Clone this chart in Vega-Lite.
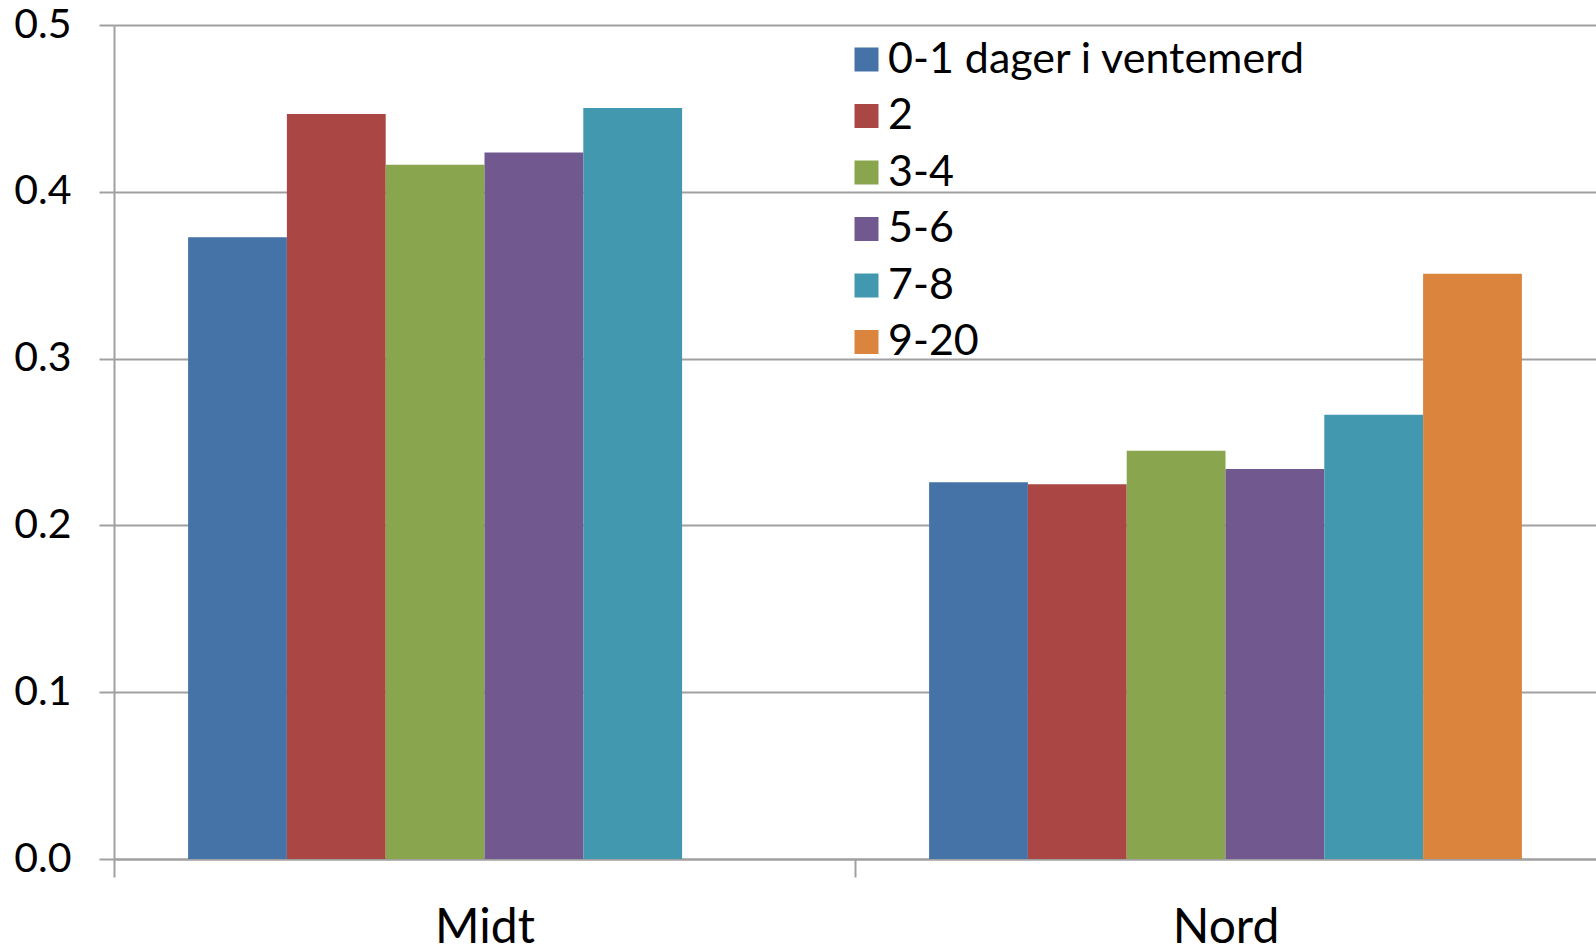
{
  "$schema": "https://vega.github.io/schema/vega-lite/v6.json",
  "width": 1482,
  "height": 834,
  "autosize": "none",
  "padding": {"left": 114, "top": 25, "right": 0, "bottom": 92},
  "background": "white",
  "data": {
    "values": [
      {"region": "Midt", "group": "0-1 dager i ventemerd", "value": 0.3728},
      {"region": "Midt", "group": "2", "value": 0.4467},
      {"region": "Midt", "group": "3-4", "value": 0.4162},
      {"region": "Midt", "group": "5-6", "value": 0.4235},
      {"region": "Midt", "group": "7-8", "value": 0.4503},
      {"region": "Nord", "group": "0-1 dager i ventemerd", "value": 0.2258},
      {"region": "Nord", "group": "2", "value": 0.2246},
      {"region": "Nord", "group": "3-4", "value": 0.2448},
      {"region": "Nord", "group": "5-6", "value": 0.2338},
      {"region": "Nord", "group": "7-8", "value": 0.2663},
      {"region": "Nord", "group": "9-20", "value": 0.3508}
    ]
  },
  "mark": {"type": "bar"},
  "encoding": {
    "x": {
      "field": "region",
      "type": "nominal",
      "sort": ["Midt", "Nord"],
      "scale": {"paddingInner": 0.2, "paddingOuter": 0.1},
      "axis": {
        "title": null,
        "labelAngle": 0,
        "labelFont": "Lato",
        "labelFontSize": 48,
        "labelColor": "#000000",
        "labelPadding": 27,
        "tickOffset": -370.5,
        "labelOffset": 370.5,
        "tickSize": 18,
        "tickColor": "#A0A0A0",
        "tickWidth": 2,
        "domainColor": "#A0A0A0",
        "domainWidth": 2,
        "grid": false
      }
    },
    "xOffset": {
      "field": "group",
      "type": "nominal",
      "sort": ["0-1 dager i ventemerd", "2", "3-4", "5-6", "7-8", "9-20"],
      "scale": {"domain": ["0-1 dager i ventemerd", "2", "3-4", "5-6", "7-8", "9-20"], "paddingInner": 0, "paddingOuter": 0}
    },
    "y": {
      "field": "value",
      "type": "quantitative",
      "scale": {"domain": [0, 0.5], "nice": false},
      "axis": {
        "title": null,
        "values": [0, 0.1, 0.2, 0.3, 0.4, 0.5],
        "format": ".1f",
        "labelFont": "Lato",
        "labelFontSize": 41,
        "labelColor": "#000000",
        "labelPadding": 28,
        "tickSize": 15,
        "tickColor": "#A0A0A0",
        "tickWidth": 2,
        "domainColor": "#A0A0A0",
        "domainWidth": 2,
        "grid": true,
        "gridColor": "#A0A0A0",
        "gridWidth": 2
      }
    },
    "color": {
      "field": "group",
      "type": "nominal",
      "sort": ["0-1 dager i ventemerd", "2", "3-4", "5-6", "7-8", "9-20"],
      "scale": {
        "domain": ["0-1 dager i ventemerd", "2", "3-4", "5-6", "7-8", "9-20"],
        "range": ["#4572A7", "#AA4643", "#89A54E", "#71588F", "#4198AF", "#DB843D"]
      },
      "legend": {
        "title": null,
        "orient": "none",
        "legendX": 731,
        "legendY": 13,
        "padding": 0,
        "symbolType": "square",
        "symbolSize": 576,
        "symbolStrokeWidth": 0,
        "symbolOpacity": 1,
        "labelFont": "Lato",
        "labelFontSize": 43,
        "labelColor": "#000000",
        "labelOffset": 0,
        "rowPadding": 12.5,
        "labelLimit": 600
      }
    }
  },
  "config": {
    "view": {"stroke": null}
  }
}
